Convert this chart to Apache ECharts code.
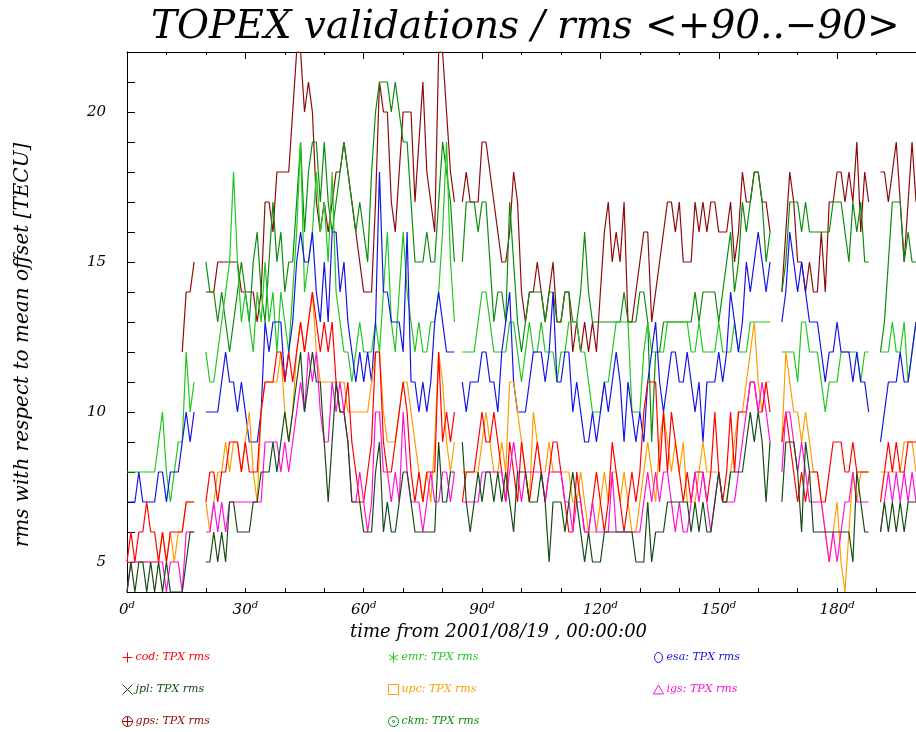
<!DOCTYPE html>
<html><head><meta charset="utf-8">
<script src="https://cdn.jsdelivr.net/npm/echarts@6/dist/echarts.min.js"></script>
<style>html,body{margin:0;padding:0;background:#fff}#c{width:916px;height:732px}</style>
</head><body><div id="c"></div>
<script>
const n = null;
// daily values, day 0 .. 200 (null = no data)
const cod = [
5,6,5,6,6,7,6,6,5,6,
5,6,6,6,6,7,7,7,n,n,
7,8,8,7,8,8,9,9,9,8,
9,8,8,8,10,11,11,11,12,12,
11,12,11,12,13,12,13,14,13,12,
13,12,13,11,10,10,11,9,8,7,
7,8,9,12,12,9,8,8,9,10,
11,10,8,7,8,7,8,8,8,12,
9,10,9,10,n,7,8,8,8,9,
10,9,9,10,9,8,7,9,8,7,
9,8,7,8,9,8,7,8,9,9,
8,7,6,6,8,7,6,6,7,8,
7,6,7,9,8,7,6,7,8,7,
8,10,11,11,11,8,10,8,10,9,
8,7,8,7,8,8,8,7,8,10,
8,7,8,10,8,10,10,10,11,11,
10,10,11,10,n,n,9,10,9,8,
7,8,7,8,8,8,7,7,8,9,
9,9,8,8,9,8,8,8,8,n,
n,7,8,9,8,9,8,8,9,9,9];
const emr = [
8,8,8,8,8,8,8,8,9,10,
8,7,8,9,9,12,10,11,n,n,
12,11,11,12,13,14,15,18,15,13,
14,13,12,14,13,15,13,14,12,14,
13,12,14,16,19,14,15,16,18,16,
17,15,18,14,13,12,12,11,12,13,
12,12,12,13,12,14,16,13,12,14,
16,14,13,12,13,12,12,13,13,14,
16,19,15,13,n,12,12,12,12,13,
14,14,13,12,12,12,12,13,13,12,
11,12,13,12,12,13,12,12,12,11,
12,12,13,13,13,12,12,11,10,10,
10,11,11,12,13,13,13,13,10,10,
10,12,13,12,12,12,12,13,13,13,
13,13,13,12,12,13,12,12,12,12,
13,12,12,12,13,12,12,12,13,13,
13,13,13,13,n,n,12,12,12,12,
11,13,13,12,12,12,11,10,11,11,
11,12,12,12,12,12,11,12,12,n,
n,12,12,12,13,12,12,13,11,12,13];
const esa = [
7,7,7,8,7,7,7,7,8,8,
7,8,8,8,9,10,9,10,n,n,
10,10,10,10,11,12,11,11,10,11,
10,9,9,9,10,13,12,13,13,13,
11,12,13,15,16,15,15,16,14,13,
15,13,16,16,14,15,13,12,11,12,
11,12,11,13,18,14,14,13,13,13,
12,16,11,11,10,11,10,11,13,14,
13,12,12,12,n,11,10,11,11,11,
12,12,11,11,10,12,13,14,11,10,
10,10,11,12,12,12,11,12,14,11,
11,12,12,10,11,10,9,9,10,9,
10,11,10,11,12,11,9,11,10,9,
10,9,11,12,13,11,10,11,12,12,
11,11,12,11,10,11,9,11,11,11,
12,11,12,14,13,12,13,15,14,15,
16,15,14,15,n,n,13,14,16,15,
14,15,14,13,13,13,12,11,12,12,
13,12,12,12,11,12,11,11,10,n,
n,9,10,11,11,11,12,11,11,12,13];
const jpl = [
4,5,4,5,5,4,5,4,5,4,
5,4,4,4,4,5,6,6,n,n,
5,5,6,5,6,5,7,7,6,6,
6,6,7,7,8,8,8,9,8,9,
10,9,10,11,12,10,11,12,11,11,
9,7,9,11,10,10,9,7,7,7,
6,6,6,8,9,6,7,6,6,7,
8,8,7,6,6,6,6,6,6,9,
7,7,8,8,n,9,7,6,7,8,
7,8,8,7,8,7,8,7,6,8,
8,8,7,7,7,8,7,5,7,7,
7,6,7,8,7,6,5,6,5,5,
5,6,6,6,6,6,6,6,6,5,
5,5,7,5,6,6,6,7,7,7,
7,7,7,6,7,6,7,6,6,7,
8,7,7,8,8,8,8,9,10,9,
10,9,7,9,n,n,7,9,9,9,
8,6,9,8,6,6,6,6,6,6,
6,6,6,6,5,8,7,6,6,n,
n,6,7,6,7,6,7,6,7,7,7];
const upc = [
5,5,5,5,5,5,5,5,5,6,
5,6,5,6,6,7,7,7,n,n,
7,6,7,8,8,9,8,9,9,8,
9,10,8,7,10,11,11,11,11,12,
10,9,10,12,13,12,13,14,12,11,
11,11,11,11,11,11,10,10,10,10,
10,10,11,12,12,10,9,9,9,10,
11,11,10,9,8,7,8,7,9,12,
11,9,8,9,n,8,8,8,8,8,
9,10,9,8,8,9,8,11,11,10,
9,8,7,10,9,8,8,9,8,8,
8,8,8,7,7,8,7,6,6,6,
7,8,7,8,8,7,8,7,6,6,
7,8,9,8,7,9,10,9,8,9,
8,9,7,7,7,8,9,8,8,8,
8,7,7,8,9,10,10,11,12,13,
11,10,11,11,n,n,9,12,11,10,
10,9,10,9,8,8,7,6,5,6,
7,5,4,6,8,7,8,8,8,n,
n,8,8,8,8,8,8,9,9,9,8];
const igs = [
4,5,5,5,5,5,5,5,5,5,
4,5,5,5,4,6,6,6,n,n,
6,6,7,6,7,6,7,7,7,7,
7,7,7,7,7,9,9,9,9,8,
9,8,9,10,11,10,12,11,12,10,
9,9,11,10,11,10,9,7,7,8,
7,6,7,10,10,8,8,7,8,7,
10,8,7,7,7,6,7,8,7,7,
8,8,7,8,n,7,7,7,7,7,
8,8,8,8,8,8,7,8,9,8,
7,8,8,8,8,8,7,8,8,8,
8,7,7,6,7,7,6,6,7,6,
6,6,6,8,6,6,6,6,6,6,
6,7,8,7,8,7,8,8,7,6,
7,6,6,7,8,7,8,7,6,7,
8,7,7,7,7,8,9,10,11,11,
10,11,10,9,n,n,8,10,10,9,
8,9,8,7,7,7,7,6,5,6,
5,6,7,7,8,7,7,7,7,n,
n,6,7,8,7,8,7,8,7,8,7];
const gps = [
n,n,n,n,n,n,n,n,n,n,
n,n,n,n,12,14,14,15,n,n,
14,14,14,15,15,15,15,15,15,14,
14,14,14,13,14,17,17,16,18,18,
18,18,20,22,22,20,21,20,17,16,
17,16,17,18,18,19,18,17,16,15,
14,14,14,17,21,20,20,17,16,18,
20,20,20,17,19,21,18,17,16,22,
22,20,18,17,n,17,18,17,17,17,
19,19,18,17,16,15,15,16,18,17,
14,13,14,14,15,14,13,14,15,13,
13,14,14,12,13,12,13,12,13,12,
14,16,17,15,16,15,17,13,13,14,
15,16,16,13,14,15,16,17,17,16,
17,15,15,15,17,16,17,16,17,17,
16,16,16,17,15,16,18,17,17,18,
18,17,17,16,n,n,14,16,18,17,
15,15,14,15,14,14,16,14,17,17,
18,18,17,18,17,19,16,18,17,n,
n,18,18,17,18,19,17,15,17,19,17];
const ckm = [
n,n,n,n,n,n,n,n,n,n,
n,n,n,n,n,n,n,n,n,n,
15,14,14,13,14,13,12,13,14,15,
14,13,15,16,14,13,15,17,15,16,
14,15,15,17,19,16,18,19,19,17,
19,17,16,17,18,19,18,17,16,17,
16,15,18,20,21,21,21,20,21,20,
19,19,17,15,15,15,16,15,15,17,
19,18,17,15,n,15,17,17,17,16,
17,17,15,13,14,14,13,17,15,13,
12,13,14,14,14,14,13,14,14,13,
13,14,14,13,13,14,16,14,13,13,
13,13,13,13,13,13,14,13,13,13,
14,14,13,9,12,12,13,13,13,13,
13,13,13,13,14,13,14,14,14,14,
13,14,15,16,14,15,17,16,17,18,
18,17,15,16,n,n,14,15,17,17,
17,16,17,16,16,16,16,16,16,17,
17,17,16,15,17,16,17,15,15,n,
n,12,13,15,17,17,17,15,16,15,15];

const xLabelDays = [0, 30, 60, 90, 120, 150, 180];
const yLabelValues = [5, 10, 15, 20];

const FONT = 'DejaVu Serif';
const defs = [
  {name:'cod', data:cod, color:'#ff0000', icon:'path://M5,0L5,10M0,5L10,5', col:0},
  {name:'jpl', data:jpl, color:'#164a16', icon:'path://M1,1L9,9M1,9L9,1', col:0},
  {name:'gps', data:gps, color:'#8e0a0a', icon:'path://M10,5A5,5,0,1,1,0,5A5,5,0,1,1,10,5ZM5,0L5,10M0,5L10,5', col:0},
  {name:'emr', data:emr, color:'#1ec81e', icon:'path://M5,0L5,10M0.7,2.5L9.3,7.5M0.7,7.5L9.3,2.5', col:1},
  {name:'upc', data:upc, color:'#ff9d00', icon:'path://M1,1L9,1L9,9L1,9Z', col:1},
  {name:'ckm', data:ckm, color:'#0c8c0c', icon:'path://M10,5A5,5,0,1,1,0,5A5,5,0,1,1,10,5ZM6,5A1,1,0,1,1,4,5A1,1,0,1,1,6,5Z', col:1},
  {name:'esa', data:esa, color:'#1414e6', icon:'path://M9,5A4,5,0,1,1,1,5A4,5,0,1,1,9,5Z', col:2},
  {name:'igs', data:igs, color:'#ff10d8', icon:'path://M5,1L9.5,9L0.5,9Z', col:2}
];
// drawing order (later on top)
const drawOrder = ['gps','ckm','emr','esa','upc','cod','igs','jpl'];

const series = drawOrder.map(nm => {
  const d = defs.find(x => x.name === nm);
  return {
    name: d.name, type: 'line', showSymbol: false, symbol: 'none',
    connectNulls: false, animation: false,
    lineStyle: {color: d.color, width: 1.2},
    itemStyle: {color: d.color},
    data: d.data.map((v, i) => [i, v])
  };
});

const legendLefts = [117, 383, 648];
const legends = [0,1,2].map(c => ({
  orient: 'vertical', left: legendLefts[c], top: 647, itemGap: 21,
  itemWidth: 10, itemHeight: 10, selectedMode: false,
  textStyle: {fontFamily: FONT, fontStyle: 'italic', fontSize: 11, padding:[0,0,0,-2]},
  formatter: nm => nm + ': TPX rms',
  data: defs.filter(d => d.col === c).map(d => ({
    name: d.name, icon: d.icon,
    itemStyle: {color: 'rgba(0,0,0,0)', borderColor: d.color, borderWidth: 1},
    textStyle: {color: d.color}
  }))
}));

const chart = echarts.init(document.getElementById('c'), null, {renderer: 'canvas'});
chart.setOption({
  animation: false,
  backgroundColor: '#fff',
  title: {
    text: 'TOPEX validations / rms <+90..\u221290>',
    left: 146, top: 3,
    textStyle: {fontFamily: FONT, fontStyle: 'italic', fontWeight: 'normal', fontSize: 39, color: '#000'}
  },
  legend: legends,
  grid: {left: 127, right: 0, top: 52, bottom: 140, containLabel: false},
  xAxis: [{
    type: 'value', min: 0, max: 200, interval: 30, position: 'bottom',
    axisLine: {show: true, onZero: false, lineStyle: {color: '#000', width: 1}},
    axisTick: {show: true, inside: true, length: 4, lineStyle: {color: '#000'}},
    minorTick: {show: true, splitNumber: 3, length: 4, lineStyle: {color: '#000'}},
    splitLine: {show: false},
    axisLabel: {
      margin: 8, showMaxLabel: false,
      formatter: v => xLabelDays.indexOf(v) >= 0 ? '{v|' + v + '}{d|d}' : '',
      rich: {
        v: {fontFamily: FONT, fontStyle: 'italic', fontSize: 15, color: '#000'},
        d: {fontFamily: FONT, fontStyle: 'italic', fontSize: 10, color: '#000', verticalAlign: 'top', padding: [0,0,10,0]}
      }
    },
    name: 'time from 2001/08/19 , 00:00:00', nameLocation: 'middle', nameGap: 31,
    nameTextStyle: {fontFamily: FONT, fontStyle: 'italic', fontSize: 18, color: '#000', padding: [0, 46, 0, 0]}
  }, {
    type: 'value', min: 0, max: 200, interval: 30, position: 'top',
    axisLine: {show: true, onZero: false, lineStyle: {color: '#000', width: 1}},
    axisTick: {show: true, inside: true, length: 7, lineStyle: {color: '#000'}},
    minorTick: {show: true, splitNumber: 3, length: 3, lineStyle: {color: '#000'}},
    splitLine: {show: false}, axisLabel: {show: false}
  }],
  yAxis: [{
    type: 'value', min: 4, max: 22, interval: 1, position: 'left',
    axisLine: {show: true, onZero: false, lineStyle: {color: '#000', width: 1}},
    axisTick: {show: true, inside: true, length: 8, lineStyle: {color: '#000'}},
    splitLine: {show: false},
    axisLabel: {
      margin: 21, fontFamily: FONT, fontStyle: 'italic', fontSize: 15, color: '#000',
      formatter: v => yLabelValues.indexOf(v) >= 0 ? String(v) : ''
    },
    name: 'rms with respect to mean offset [TECU]', nameLocation: 'middle', nameGap: 94, nameRotate: 90,
    nameTextStyle: {fontFamily: FONT, fontStyle: 'italic', fontSize: 20, color: '#000', padding: [0, 46, 0, 0]}
  }],
  series: series
});
</script>
</body></html>
